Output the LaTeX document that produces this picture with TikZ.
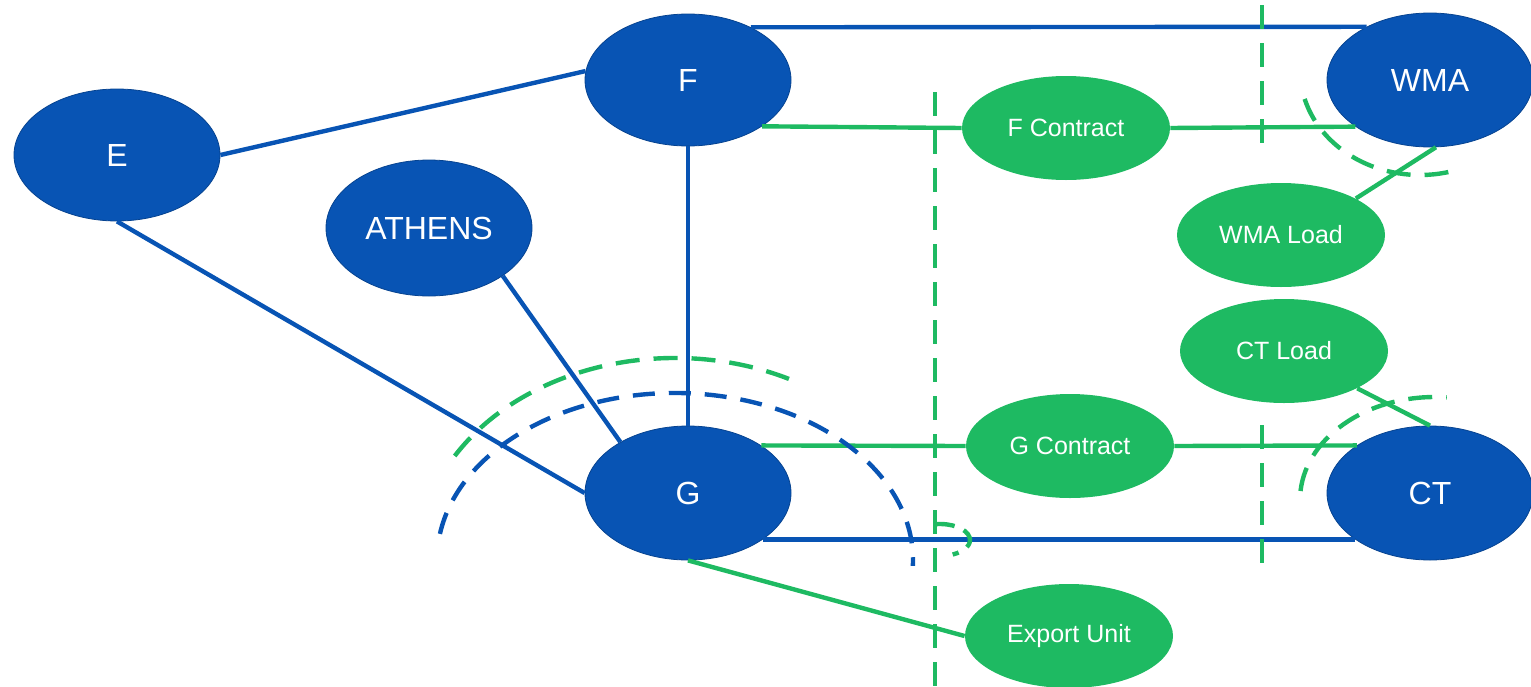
\documentclass[tikz,border=0pt]{standalone}
\usepackage{fontspec}
\setmainfont{Liberation Sans}
\usetikzlibrary{shapes.geometric}
\definecolor{nodeblue}{RGB}{8,84,180}
\definecolor{nodegreen}{RGB}{30,186,98}
\begin{document}
\begin{tikzpicture}[x=0.5pt,y=-0.5pt,
  bnode/.style={ellipse, fill=nodeblue, draw=nodeblue!80!black, line width=0.4pt,
    minimum width=103pt, minimum height=66pt, inner sep=0pt, text=white,
    font=\fontsize{16}{18}\selectfont},
  gnode/.style={ellipse, fill=nodegreen, minimum width=104pt, minimum height=52pt,
    inner sep=0pt, text=white, font=\fontsize{12.5}{14}\selectfont},
  bline/.style={draw=nodeblue, line width=2.2pt},
  gline/.style={draw=nodegreen, line width=2.2pt},
  gdash/.style={draw=nodegreen, line width=2.2pt, dash pattern=on 12pt off 7pt},
  bdash/.style={draw=nodeblue, line width=2.2pt, dash pattern=on 11pt off 7pt},
]
\useasboundingbox (0,0) rectangle (1531,686);
% blue nodes
\node[bnode] (E) at (117,155) {E};
\node[bnode] (F) at (688,80) {F};
\node[bnode, minimum height=68pt] (ATH) at (429,228) {ATHENS};
\node[bnode, minimum height=67pt] (G) at (688,493) {G};
\node[bnode, minimum height=67pt] (WMA) at (1430,80) {WMA};
\node[bnode, minimum height=67pt] (CT) at (1430,493) {CT};
% green nodes
\node[gnode] (FC) at (1066,128) {F Contract};
\node[gnode] (WL) at (1281,235) {WMA Load};
\node[gnode] (CL) at (1284,351) {CT Load};
\node[gnode] (GC) at (1070,446) {G Contract};
\node[gnode] (EU) at (1069,636) {Export Unit};
% blue connectors
\draw[bline] (E.east) -- (F.175);
\draw[bline] (E.south) -- (G.west);
\draw[bline] (ATH.-33) -- (G.143);
\draw[bline] (F.south) -- (G.north);
\draw[bline] (F.40) -- (WMA.140);
\draw[bline] (G.-32) -- (CT.212);
% green connectors
\draw[gline] (F.-32) -- (FC.west);
\draw[gline] (FC.east) -- (WMA.212);
\draw[gline] (G.33) -- (GC.west);
\draw[gline] (GC.east) -- (CT.147);
\draw[gline] (G.south) -- (EU.west);
\draw[gline] (WMA.-85) -- (WL.26);
\draw[gline] (CL.-27) -- (CT.north);
% dashed boundaries
\draw[gdash] (935,92) -- (935,686);
\draw[gdash] (1262,5) -- (1262,148);
\draw[gdash] (1262,425) -- (1262,565);
\draw[gdash] (675,560) ++(-149:257 and 202) arc[start angle=-149, end angle=-61, x radius=257, y radius=202];
\draw[bdash] (675,560) ++(-171:238 and 167) arc[start angle=-171, end angle=2, x radius=238, y radius=167];
\draw[gdash, dash pattern=on 10pt off 5pt] (940,540) ++(-100:30 and 16) arc[start angle=-100, end angle=65, x radius=30, y radius=16];
\draw[gdash] (1420,70) ++(164:120 and 105) arc[start angle=164, end angle=75, x radius=120, y radius=105];
\draw[gdash] (1435,500) ++(-175:135 and 103) arc[start angle=-175, end angle=-85, x radius=135, y radius=103];
\end{tikzpicture}
\end{document}
